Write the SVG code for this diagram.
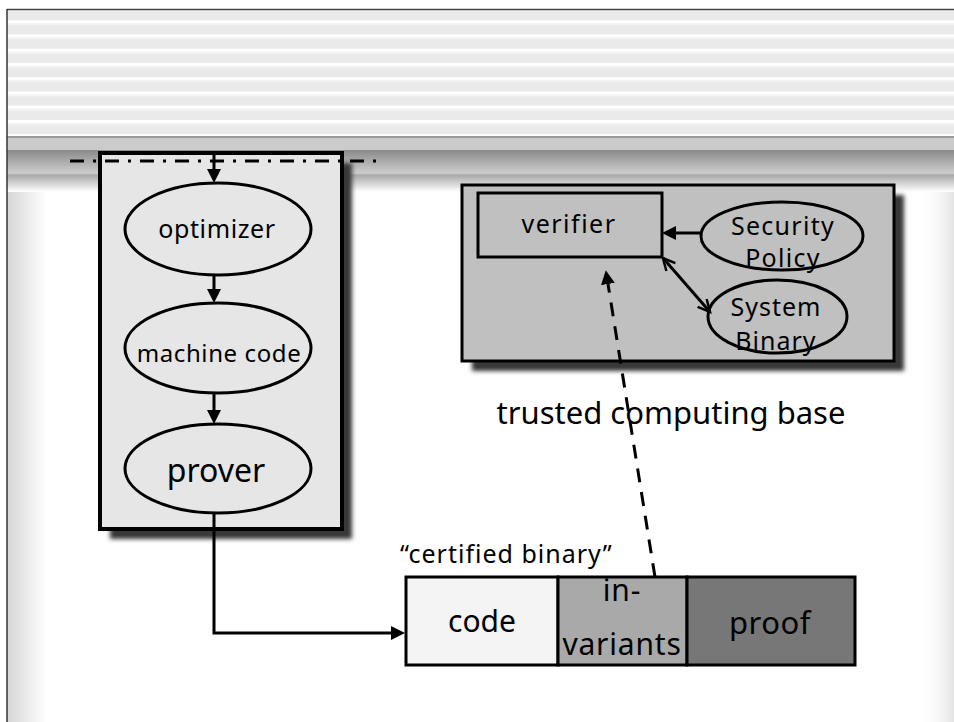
<svg xmlns="http://www.w3.org/2000/svg" width="954" height="722" viewBox="0 0 954 722">
  <defs>
    <style>
      .lbl { font-family: "Comic Sans MS", "Noto Sans", sans-serif; fill: #000; text-anchor: middle; }
      .edge { stroke: #000; stroke-width: 3; fill: none; }
      .node { stroke: #000; stroke-width: 3; }
      .shadow { fill: #383838; filter: url(#blur); }
    </style>
    <pattern id="stripes" x="0" y="5.95" width="20" height="14.25" patternUnits="userSpaceOnUse">
      <rect width="20" height="14.25" fill="#eaeaea"/>
      <rect width="20" height="3" fill="#ffffff"/>
      <rect y="3" width="20" height="2" fill="#f3f3f3"/>
    </pattern>
    <linearGradient id="band" x1="0" y1="0" x2="0" y2="1">
      <stop offset="0" stop-color="#8a8a8a"/>
      <stop offset="0.55" stop-color="#cdcdcd"/>
      <stop offset="0.6" stop-color="#a9a9a9"/>
      <stop offset="1" stop-color="#ffffff"/>
    </linearGradient>
    <linearGradient id="leftEdge" x1="0" y1="0" x2="1" y2="0">
      <stop offset="0" stop-color="#d6d6d6"/>
      <stop offset="1" stop-color="#ffffff"/>
    </linearGradient>
    <linearGradient id="rightEdge" x1="0" y1="0" x2="1" y2="0">
      <stop offset="0" stop-color="#ffffff" stop-opacity="0"/>
      <stop offset="1" stop-color="#e4e4e4"/>
    </linearGradient>
    <filter id="blur" x="-10%" y="-10%" width="120%" height="120%">
      <feGaussianBlur stdDeviation="2"/>
    </filter>
    <marker id="head" markerUnits="userSpaceOnUse" markerWidth="15" markerHeight="15" refX="0" refY="7" orient="auto">
      <path d="M0,0 L14,7 L0,14 z" fill="#000"/>
    </marker>
    <marker id="open" markerUnits="userSpaceOnUse" markerWidth="16" markerHeight="16" refX="13" refY="7" orient="auto-start-reverse">
      <path d="M1,1 L13,7 L1,13" fill="none" stroke="#000" stroke-width="2.5"/>
    </marker>
  </defs>

  <!-- page background -->
  <g id="background">
    <rect width="954" height="722" fill="#ffffff"/>
    <rect x="7" y="190" width="40" height="532" fill="url(#leftEdge)"/>
    <rect x="918" y="190" width="36" height="532" fill="url(#rightEdge)"/>
    <rect x="7" y="10" width="947" height="127" fill="url(#stripes)"/>
    <rect x="7" y="138" width="947" height="12" fill="#cbcbcb"/>
    <rect x="7" y="150" width="947" height="42" fill="url(#band)"/>
    <line x1="7" y1="137" x2="954" y2="137" stroke="#7a7a7a" stroke-width="1.5"/>
    <line x1="7" y1="9.5" x2="954" y2="9.5" stroke="#444" stroke-width="1.5"/>
    <line x1="7" y1="9" x2="7" y2="722" stroke="#333" stroke-width="1.5"/>
  </g>

  <!-- compiler pipeline container -->
  <g id="compiler">
    <rect class="shadow" x="110" y="163" width="242" height="376"/>
    <rect x="100" y="153" width="242" height="376" fill="#e6e6e6" stroke="#000" stroke-width="4"/>
  </g>

  <!-- trusted computing base container -->
  <g id="tcb">
    <rect class="shadow" x="472" y="195" width="432" height="176"/>
    <rect x="462" y="185" width="432" height="176" fill="#c0c0c0" stroke="#000" stroke-width="3"/>
  </g>

  <g id="optimizer">
    <ellipse class="node" cx="218" cy="229" rx="93" ry="46" fill="#e6e6e6"/>
    <text class="lbl" x="217" y="238" font-size="25" letter-spacing="0.6">optimizer</text>
  </g>

  <g id="machine-code">
    <ellipse class="node" cx="218" cy="348" rx="93" ry="45" fill="#e6e6e6"/>
    <text class="lbl" x="219" y="362" font-size="24" letter-spacing="0.6">machine code</text>
  </g>

  <g id="prover">
    <ellipse class="node" cx="218" cy="468.5" rx="93" ry="44.5" fill="#e6e6e6"/>
    <text class="lbl" x="216" y="482" font-size="32">prover</text>
  </g>

  <g id="verifier">
    <rect class="node" x="478" y="193" width="184" height="64" fill="#c0c0c0"/>
    <text class="lbl" x="569" y="233" font-size="25" letter-spacing="1.5">verifier</text>
  </g>

  <g id="security-policy">
    <ellipse class="node" cx="782" cy="236" rx="81" ry="34" fill="#c0c0c0"/>
    <text class="lbl" x="783" y="235" font-size="25" letter-spacing="1.3">Security</text>
    <text class="lbl" x="783" y="267" font-size="25" letter-spacing="1.3">Policy</text>
  </g>

  <g id="system-binary">
    <ellipse class="node" cx="777.5" cy="316.5" rx="69.5" ry="36.5" fill="#c0c0c0"/>
    <text class="lbl" x="776" y="316" font-size="25" letter-spacing="1">System</text>
    <text class="lbl" x="776" y="350" font-size="25" letter-spacing="1">Binary</text>
  </g>

  <g id="certified-binary">
    <text x="400" y="563" font-size="25" letter-spacing="1" font-family="Comic Sans MS, Noto Sans, sans-serif" fill="#000">“certified binary”</text>
    <rect class="node" x="406" y="577" width="152" height="88" fill="#f4f4f4"/>
    <rect class="node" x="558" y="577" width="129" height="88" fill="#a9a9a9"/>
    <rect class="node" x="687" y="577" width="168" height="88" fill="#777777"/>
    <text class="lbl" x="482" y="632" font-size="30">code</text>
    <text class="lbl" x="622" y="601" font-size="30" letter-spacing="0.8">in-</text>
    <text class="lbl" x="622" y="655" font-size="30" letter-spacing="0.8">variants</text>
    <text class="lbl" x="770" y="634" font-size="31" letter-spacing="0.5">proof</text>
  </g>

  <g id="tcb-label">
    <text class="lbl" x="671" y="424" font-size="31">trusted computing base</text>
  </g>

  <g id="connectors">
    <!-- dash-dot boundary -->
    <line x1="70" y1="161" x2="378" y2="161" stroke="#000" stroke-width="3" stroke-dasharray="14 9 3 9"/>
    <line class="edge" x1="214" y1="153" x2="214" y2="169" marker-end="url(#head)"/>
    <line class="edge" x1="214" y1="275" x2="214" y2="289" marker-end="url(#head)"/>
    <line class="edge" x1="214" y1="393" x2="214" y2="410" marker-end="url(#head)"/>
    <polyline class="edge" points="214,513 214,633 391,633" marker-end="url(#head)"/>
    <line class="edge" x1="700" y1="233" x2="676" y2="233" marker-end="url(#head)"/>
    <line class="edge" x1="663" y1="258" x2="710" y2="312" marker-start="url(#open)" marker-end="url(#open)"/>
    <line class="edge" x1="655" y1="577" x2="608" y2="284" stroke-dasharray="14 10" stroke-width="4" marker-end="url(#head)"/>
  </g>
</svg>
